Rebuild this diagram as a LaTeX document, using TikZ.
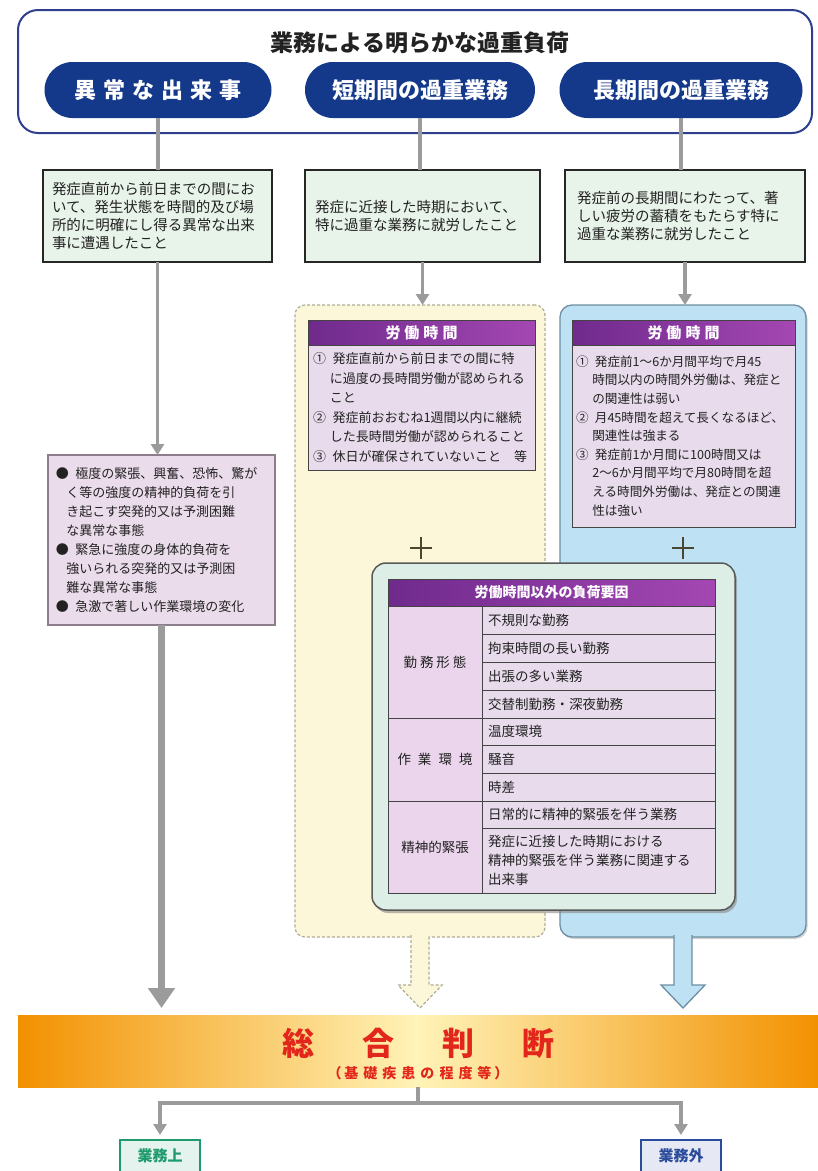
\documentclass[tikz,border=0pt]{standalone}
\usepackage{fontspec}
\setmainfont{Noto Sans CJK JP}
\usetikzlibrary{arrows.meta,shadows}
\definecolor{navy}{HTML}{14398A}
\definecolor{framec}{HTML}{2E3F8F}
\definecolor{mint}{HTML}{E8F3EA}
\definecolor{pinkf}{HTML}{EBDCEC}
\definecolor{pinkd}{HTML}{8C7E8C}
\definecolor{purpD}{HTML}{6F2A8C}
\definecolor{purpL}{HTML}{A447B3}
\definecolor{lav}{HTML}{E8DCEC}
\definecolor{lavL}{HTML}{EBD5EC}
\definecolor{yelf}{HTML}{FDF7DA}
\definecolor{yeld}{HTML}{AFAD95}
\definecolor{bluf}{HTML}{BEE2F3}
\definecolor{blud}{HTML}{6E8FA3}
\definecolor{grnf}{HTML}{DCEEE6}
\definecolor{grayc}{HTML}{9B9B9B}
\definecolor{orng}{HTML}{F29100}
\definecolor{paley}{HTML}{FFF3B8}
\definecolor{redt}{HTML}{E3261B}
\definecolor{grnt}{HTML}{1E9A6C}
\definecolor{blut}{HTML}{2B4B9B}
\definecolor{plusc}{HTML}{4B4630}
\definecolor{txt}{HTML}{222222}
\definecolor{tline}{HTML}{444444}
\begin{document}
\begin{tikzpicture}[x=1pt,y=-1pt,
  every node/.style={inner sep=0pt, outer sep=0pt},
  pill/.style={fill=navy, text=white, rounded corners=28pt, minimum height=56pt,
    font=\bfseries\fontsize{22}{24}\selectfont},
  topbox/.style={fill=mint, draw=black!85, line width=2.6pt, minimum height=92pt,
    align=left, text=txt, font=\fontsize{14.5}{18}\selectfont},
  pinkbox/.style={fill=pinkf, draw=pinkd, line width=1.3pt, align=left, text=txt,
    font=\fontsize{13}{19}\selectfont, inner xsep=8pt},
  phead/.style={left color=purpD, right color=purpL, draw=tline, line width=1pt,
    text=white, font=\bfseries\fontsize{15}{17}\selectfont},
  pbody/.style={fill=lav, draw=tline, line width=1pt, align=left, text=txt,
    font=\fontsize{13}{19.5}\selectfont, inner xsep=5pt},
  lcell/.style={fill=lavL, draw=tline, line width=1pt, minimum width=94pt, text=txt,
    font=\fontsize{13.5}{19}\selectfont},
  rcell/.style={fill=lav, draw=tline, line width=1pt, text width=221pt, inner xsep=6pt,
    align=left, text=txt, font=\fontsize{13.5}{19}\selectfont},
  gline/.style={draw=grayc, line width=4pt},
  garrow/.style={draw=grayc, line width=3.5pt, -{Triangle[width=13pt,length=11pt]}},
  outbox/.style={minimum width=80pt, minimum height=32pt, line width=2pt,
    font=\bfseries\fontsize{15}{17}\selectfont}
]
\useasboundingbox (0,0) rectangle (818,1171);
\fill[white] (0,0) rectangle (818,1171);

% top frame
\node[draw=framec, line width=2pt, rounded corners=20pt, fill=white,
  minimum width=794pt, minimum height=123pt] (frame) at (415,71.5) {};
\node[font=\bfseries\fontsize{23}{26}\selectfont, text=txt] (title) at (420,43) {業務による明らかな過重負荷};
\node[pill, minimum width=227pt] (p1) at (158,90) {異\kern7pt 常\kern7pt な\kern7pt 出\kern7pt 来\kern7pt 事};
\node[pill, minimum width=230pt] (p2) at (420,90) {短期間の過重業務};
\node[pill, minimum width=243pt] (p3) at (681,90) {長期間の過重業務};

% first-level boxes
\node[topbox, text width=211pt, inner xsep=9pt] (b1) at (157.5,216)
  {発症直前から前日までの間にお\\いて、発生状態を時間的及び場\\所的に明確にし得る異常な出来\\事に遭遇したこと};
\node[topbox, text width=215pt, inner xsep=10pt] (b2) at (422.5,216)
  {発症に近接した時期において、\\特に過重な業務に就労したこと};
\node[topbox, text width=216pt, inner xsep=12pt] (b3) at (685,216)
  {発症前の長期間にわたって、著\\しい疲労の蓄積をもたらす特に\\過重な業務に就労したこと};

\draw[gline] (p1.south) -- (p1.south |- b1.north);
\draw[gline] (p2.south) -- (p2.south |- b2.north);
\draw[gline] (p3.south) -- (p3.south |- b3.north);

% regions
\node[fill=yelf, draw=yeld, line width=1.2pt, dash pattern=on 3pt off 2pt, rounded corners=10pt,
  minimum width=250pt, minimum height=632pt] (yreg) at (420,621) {};
\node[fill=bluf, draw=blud, line width=1.3pt, rounded corners=12pt,
  drop shadow={opacity=0.35, shadow xshift=1.5pt, shadow yshift=-2pt},
  minimum width=246pt, minimum height=632pt] (breg) at (683,621) {};

% left pink box
\node[pinkbox, text width=211pt, minimum height=170pt] (lb) at (161.5,540)
  {●\kern0.5em 極度の緊張、興奮、恐怖、驚が\\
   \hspace*{0.8em}く等の強度の精神的負荷を引\\
   \hspace*{0.8em}き起こす突発的又は予測困難\\
   \hspace*{0.8em}な異常な事態\\
   ●\kern0.5em 緊急に強度の身体的負荷を\\
   \hspace*{0.8em}強いられる突発的又は予測困\\
   \hspace*{0.8em}難な異常な事態\\
   ●\kern0.5em 急激で著しい作業環境の変化};

% working-hours boxes
\node[phead, minimum width=227pt, minimum height=25pt] (mh) at (421.5,332.5)
  {労\kern4pt 働\kern4pt 時\kern4pt 間};
\node[pbody, text width=217pt, minimum height=125pt, anchor=north] (mb) at (mh.south)
  {①\kern0.5em 発症直前から前日までの間に特\\
   \hspace*{1.3em}に過度の長時間労働が認められる\\
   \hspace*{1.3em}こと\\
   ②\kern0.5em 発症前おおむね1週間以内に継続\\
   \hspace*{1.3em}した長時間労働が認められること\\
   ③\kern0.5em 休日が確保されていないこと\kern1em 等};

\node[phead, minimum width=223pt, minimum height=25pt] (rh) at (683.5,332.5)
  {労\kern4pt 働\kern4pt 時\kern4pt 間};
\node[pbody, text width=215pt, inner xsep=4pt, minimum height=182pt, anchor=north,
  font=\fontsize{12.6}{18.6}\selectfont] (rb) at (rh.south)
  {①\kern0.5em 発症前1～6か月間平均で月45\\
   \hspace*{1.3em}時間以内の時間外労働は、発症と\\
   \hspace*{1.3em}の関連性は弱い\\
   ②\kern0.5em 月45時間を超えて長くなるほど、\\
   \hspace*{1.3em}関連性は強まる\\
   ③\kern0.5em 発症前1か月間に100時間又は\\
   \hspace*{1.3em}2～6か月間平均で月80時間を超\\
   \hspace*{1.3em}える時間外労働は、発症との関連\\
   \hspace*{1.3em}性は強い};

% plus signs
\draw[plusc, line width=1.8pt] (421,537) -- (421,559) (410,548) -- (432,548);
\draw[plusc, line width=1.8pt] (683,537) -- (683,559) (672,548) -- (694,548);

% green frame with table
\node[fill=grnf, draw=black!65, line width=1.5pt, rounded corners=14pt,
  drop shadow={opacity=0.55, shadow xshift=2pt, shadow yshift=-3pt},
  minimum width=363pt, minimum height=347pt] (gf) at (553.5,736.5) {};
\node[phead, minimum width=327pt, minimum height=27pt, font=\bfseries\fontsize{14}{16}\selectfont]
  (th) at (551.5,592.5) {労働時間以外の負荷要因};
\node[lcell, minimum height=112pt] (g1) at (435,662) {勤\kern3pt 務\kern3pt 形\kern3pt 態};
\node[lcell, minimum height=83pt] (g2) at (435,759.5) {作\kern7pt 業\kern7pt 環\kern7pt 境};
\node[lcell, minimum height=92pt] (g3) at (435,847) {精神的緊張};
\node[rcell, minimum height=28pt] (r1) at (598.5,620) {不規則な勤務};
\node[rcell, minimum height=28pt] (r2) at (598.5,648) {拘束時間の長い勤務};
\node[rcell, minimum height=28pt] (r3) at (598.5,676) {出張の多い業務};
\node[rcell, minimum height=28pt] (r4) at (598.5,704) {交替制勤務・深夜勤務};
\node[rcell, minimum height=27pt] (r5) at (598.5,731.5) {温度環境};
\node[rcell, minimum height=28pt] (r6) at (598.5,759) {騒音};
\node[rcell, minimum height=28pt] (r7) at (598.5,787) {時差};
\node[rcell, minimum height=27pt] (r8) at (598.5,814.5) {日常的に精神的緊張を伴う業務};
\node[rcell, minimum height=65pt] (r9) at (598.5,860.5)
  {発症に近接した時期における\\精神的緊張を伴う業務に関連する\\出来事};

% bottom band
\node[left color=orng, right color=orng, middle color=paley,
  minimum width=800pt, minimum height=72pt] (band) at (418,1051) {};
\node[font=\bfseries\fontsize{32}{34}\selectfont, text=redt] (sogo) at (418,1043)
  {総\kern48pt 合\kern48pt 判\kern48pt 断};
\node[font=\bfseries\fontsize{14}{16}\selectfont, text=redt] (sub) at (418,1073)
  {（\kern3pt 基\kern5pt 礎\kern5pt 疾\kern5pt 患\kern5pt の\kern5pt 程\kern5pt 度\kern5pt 等\kern3pt ）};

% arrows into regions and the pink box
\draw[garrow] (b1.south) -- (b1.south |- lb.north);
\draw[garrow] (b2.south) -- (b2.south |- yreg.north);
\draw[garrow] (b3.south) -- (b3.south |- breg.north);

% big arrows down to the band
\draw[grayc, line width=7pt, -{Triangle[width=26pt,length=20pt]}, shorten >=7pt]
  (lb.south) -- (lb.south |- band.north);
\draw[fill=yelf, draw=yeld, line width=1.2pt, dash pattern=on 3pt off 2pt]
  (yreg.south) ++(-9,-2) -- ++(0,50) -- ++(-13,0) -- ++(22,23) -- ++(22,-23) -- ++(-13,0) -- ++(0,-50);
\draw[fill=bluf, draw=blud, line width=1.3pt]
  (breg.south) ++(-9,-2) -- ++(0,50) -- ++(-13,0) -- ++(22,23) -- ++(22,-23) -- ++(-13,0) -- ++(0,-50);

% outcome boxes
\node[outbox, fill=grnt!12, draw=grnt, text=grnt] (o1) at (160,1156) {業務上};
\node[outbox, fill=blut!12, draw=blut, text=blut] (o2) at (681,1156) {業務外};
\draw[gline] (band.south) -- ++(0,16) coordinate (split);
\draw[garrow, shorten >=5pt] (split) -| (o1.north);
\draw[garrow, shorten >=5pt] (split) -| (o2.north);
\end{tikzpicture}
\end{document}
